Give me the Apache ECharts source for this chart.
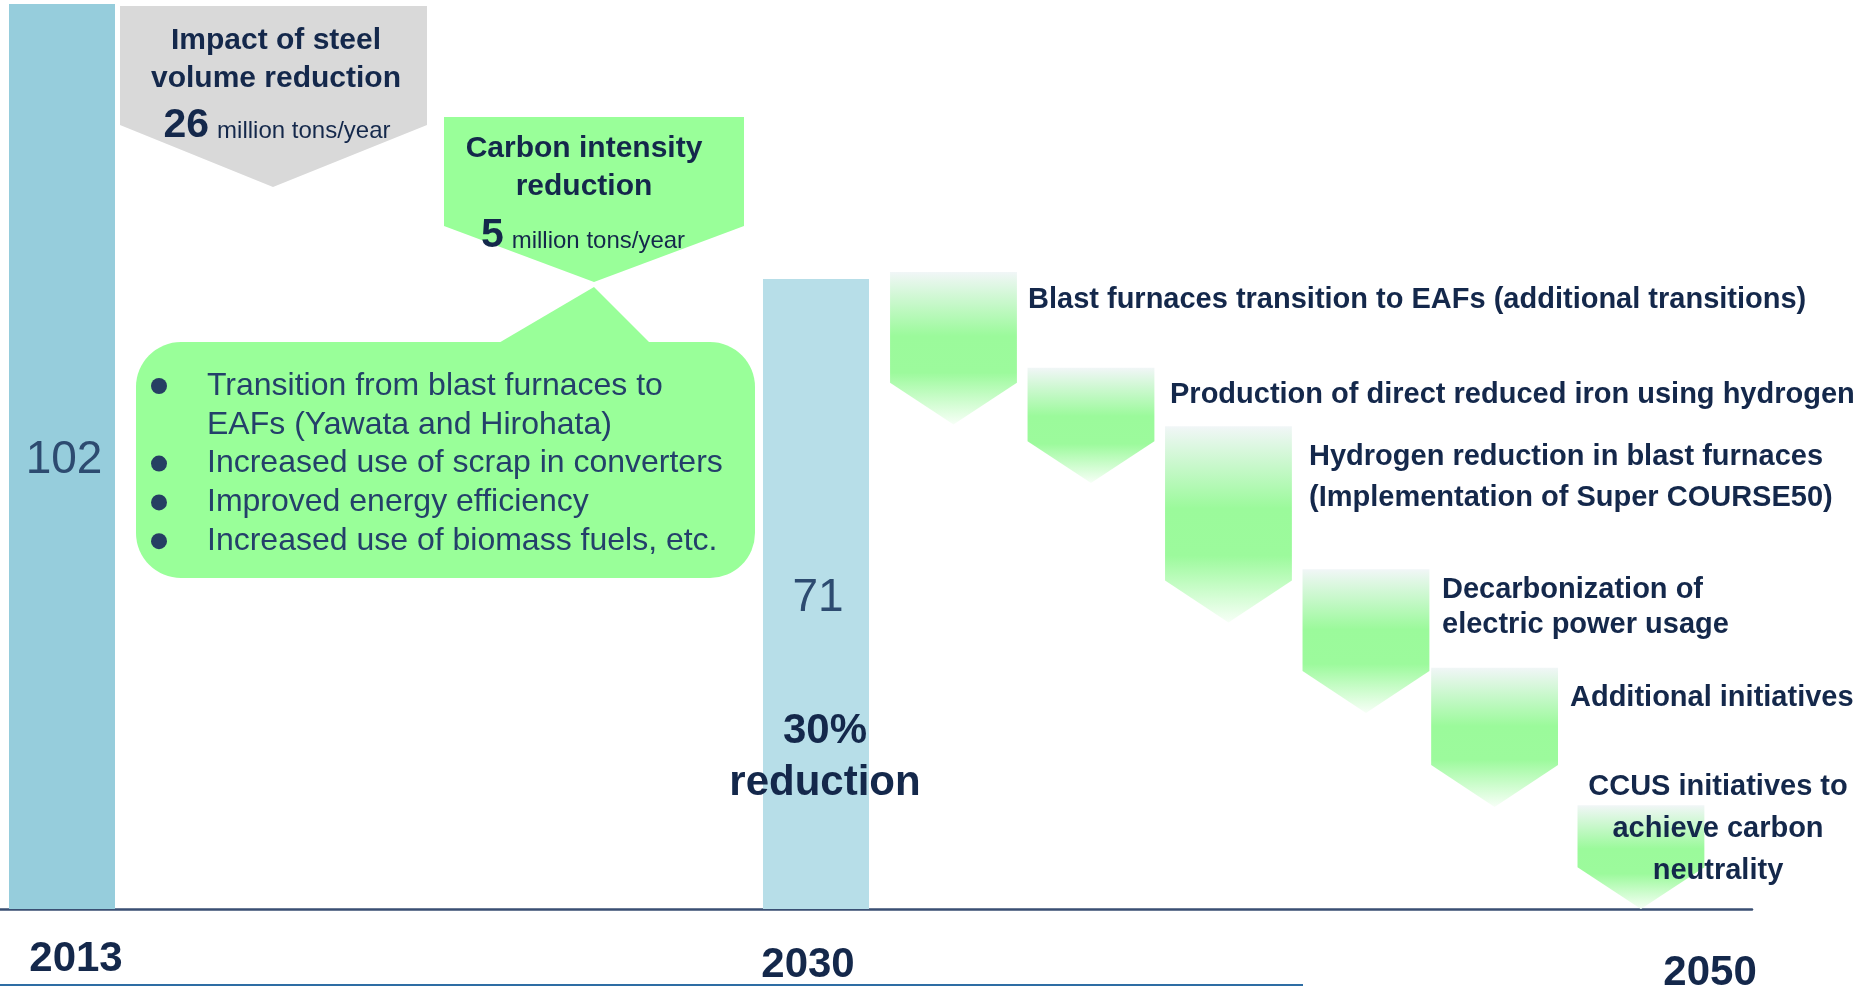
<!DOCTYPE html>
<html>
<head>
<meta charset="utf-8">
<title>CO2 emission reduction roadmap</title>
<script src="https://cdn.jsdelivr.net/npm/echarts@6/dist/echarts.min.js"></script>
<style>
  html, body { margin: 0; padding: 0; background: #ffffff; }
  #chart { width: 1866px; height: 986px; }
</style>
</head>
<body>
<div id="chart"></div>
<script>
// emissions (million tons/year)
var barYears = [2013, 2030];
var barValues = [102, 71];
var yearLabels = [2013, 2030, 2050];

// reduction steps between 2030 and 2050: centre year, level at top, level at tip
var stepYears = [2033.1, 2036.2, 2039.3, 2042.4, 2045.3, 2048.6];
var stepTops = [71.8, 61.0, 54.4, 38.3, 27.2, 11.7];
var stepTips = [54.6, 48.0, 32.3, 22.1, 11.5, 0];

var bullets = [
    ['Transition from blast furnaces to', 'EAFs (Yawata and Hirohata)'],
    ['Increased use of scrap in converters'],
    ['Improved energy efficiency'],
    ['Increased use of biomass fuels, etc.']
];

var FONT = 'Arial, "Liberation Sans", Helvetica, sans-serif';
var NAVY = '#14284b';
var GREEN = '#99ff99';
var arrowSpan = 2.86; // width of each step arrow, in years

var myChart = echarts.init(document.getElementById('chart'), null, { renderer: 'canvas' });

var barData = [];
for (var i = 0; i < barYears.length; i++) {
    barData.push({
        value: [barYears[i], barValues[i]],
        itemStyle: { color: i === 0 ? '#96cddc' : '#b7dee8' }
    });
}

var stepData = [];
for (var j = 0; j < stepYears.length; j++) {
    stepData.push([stepYears[j], stepTops[j], stepTips[j]]);
}

function renderStep(params, api) {
    var xc = api.value(0);
    var pTop = api.coord([xc, api.value(1)]);
    var pTip = api.coord([xc, api.value(2)]);
    var half = api.size([arrowSpan, 0])[0] / 2;
    var shoulder = pTip[1] - half * 0.66;
    return {
        type: 'polygon',
        shape: {
            points: [
                [pTop[0] - half, pTop[1]],
                [pTop[0] + half, pTop[1]],
                [pTop[0] + half, shoulder],
                [pTip[0], pTip[1]],
                [pTop[0] - half, shoulder]
            ]
        },
        style: {
            fill: new echarts.graphic.LinearGradient(0, 0, 0, 1, [
                { offset: 0, color: '#f1f6f7' },
                { offset: 0.42, color: '#9bfa9b' },
                { offset: 0.66, color: '#9cfa9c' },
                { offset: 1, color: '#f7fff7' }
            ])
        }
    };
}

function txt(x, y, text, size, opts) {
    opts = opts || {};
    return {
        type: 'text',
        x: x,
        y: y + 3,
        z: 100,
        style: {
            text: text,
            fill: opts.color || NAVY,
            font: (opts.bold === false ? '' : 'bold ') + size + 'px ' + FONT,
            align: opts.align || 'center',
            verticalAlign: 'middle'
        }
    };
}

function amountText(x, y, amount) {
    return {
        type: 'text', x: x, y: y + 3, z: 100,
        style: {
            text: '{big|' + amount + '}{small|million tons/year}',
            align: 'center', verticalAlign: 'middle',
            rich: {
                big: { font: 'bold 41px ' + FONT, fill: NAVY, lineHeight: 44, verticalAlign: 'bottom' },
                small: { font: '24px ' + FONT, fill: NAVY, lineHeight: 44, verticalAlign: 'bottom', padding: [0, 0, 3, 8] }
            }
        }
    };
}

var graphics = [];

// grey callout: volume reduction
graphics.push({
    type: 'polygon', z: 5,
    shape: { points: [[120, 6], [427, 6], [427, 125], [273, 187], [120, 125]] },
    style: { fill: '#d9d9d9' }
});
graphics.push(txt(276, 38, 'Impact of steel', 30));
graphics.push(txt(276, 76, 'volume reduction', 30));
graphics.push(amountText(277, 121, '26'));

// green callout: intensity reduction
graphics.push({
    type: 'polygon', z: 5,
    shape: { points: [[444, 117], [744, 117], [744, 226], [594, 282], [444, 226]] },
    style: { fill: GREEN }
});
graphics.push(txt(584, 146, 'Carbon intensity', 30));
graphics.push(txt(584, 184, 'reduction', 30));
graphics.push(amountText(583, 231, '5'));

// speech bubble with measures
graphics.push({
    type: 'polygon', z: 5,
    shape: { points: [[497, 344], [594, 287], [651, 344]] },
    style: { fill: GREEN }
});
graphics.push({
    type: 'rect', z: 5,
    shape: { x: 136, y: 342, width: 619, height: 236, r: 45 },
    style: { fill: GREEN }
});
var lineY = 383;
for (var b = 0; b < bullets.length; b++) {
    graphics.push({
        type: 'circle', z: 100,
        shape: { cx: 159, cy: lineY + 3, r: 8 },
        style: { fill: '#263f63' }
    });
    for (var l = 0; l < bullets[b].length; l++) {
        graphics.push(txt(207, lineY, bullets[b][l], 32, { bold: false, align: 'left', color: '#24406a' }));
        lineY += 38.8;
    }
}

// 30% reduction
graphics.push(txt(825, 728, '30%', 42));
graphics.push(txt(825, 780, 'reduction', 42));

// step labels
graphics.push(txt(1028, 297, 'Blast furnaces transition to EAFs (additional transitions)', 29, { align: 'left' }));
graphics.push(txt(1170, 392, 'Production of direct reduced iron using hydrogen', 29, { align: 'left' }));
graphics.push(txt(1309, 454, 'Hydrogen reduction in blast furnaces', 29, { align: 'left' }));
graphics.push(txt(1309, 495, '(Implementation of Super COURSE50)', 29, { align: 'left' }));
graphics.push(txt(1442, 587, 'Decarbonization of', 29, { align: 'left' }));
graphics.push(txt(1442, 622, 'electric power usage', 29, { align: 'left' }));
graphics.push(txt(1570, 695, 'Additional initiatives', 29, { align: 'left' }));
graphics.push(txt(1718, 784, 'CCUS initiatives to', 29));
graphics.push(txt(1718, 826, 'achieve carbon', 29));
graphics.push(txt(1718, 868, 'neutrality', 29));

// bottom rule
graphics.push({
    type: 'line', z: 5,
    shape: { x1: 0, y1: 985, x2: 1303, y2: 985 },
    style: { stroke: '#2e6da4', lineWidth: 2 }
});

var yearStyle = { fontSize: 42, fontWeight: 'bold', fontFamily: FONT, color: NAVY };

var option = {
    animation: false,
    backgroundColor: '#ffffff',
    grid: { left: 0, right: 114, top: 4, bottom: 77, containLabel: false, outerBoundsMode: 'none' },
    xAxis: {
        type: 'value',
        min: 2011.602,
        max: 2051.104,
        splitLine: { show: false },
        axisTick: { show: false },
        axisLine: { show: true, lineStyle: { color: '#3a4f73', width: 2.5 } },
        axisLabel: {
            customValues: yearLabels,
            margin: 29,
            hideOverlap: false,
            formatter: function (v) { return '{y' + v + '|' + v + '}'; },
            rich: {
                y2013: echarts.util.extend({ padding: [0, 0, 0, 28] }, yearStyle),
                y2030: echarts.util.extend({ padding: [6, 16, 0, 0] }, yearStyle),
                y2050: echarts.util.extend({ padding: [14, 0, 0, 14] }, yearStyle)
            }
        }
    },
    yAxis: {
        type: 'value',
        min: 0,
        max: 102,
        show: false,
        splitLine: { show: false }
    },
    series: [
        {
            type: 'bar',
            barWidth: 106,
            data: barData,
            label: {
                show: true,
                position: 'inside',
                offset: [2, 4],
                color: '#2d4b70',
                fontFamily: FONT,
                fontSize: 46
            }
        },
        {
            type: 'custom',
            renderItem: renderStep,
            encode: { x: 0, y: [1, 2] },
            clip: false,
            z: 1,
            data: stepData
        }
    ],
    graphic: graphics
};

if (option)
    myChart.setOption(option);
</script>
</body>
</html>
